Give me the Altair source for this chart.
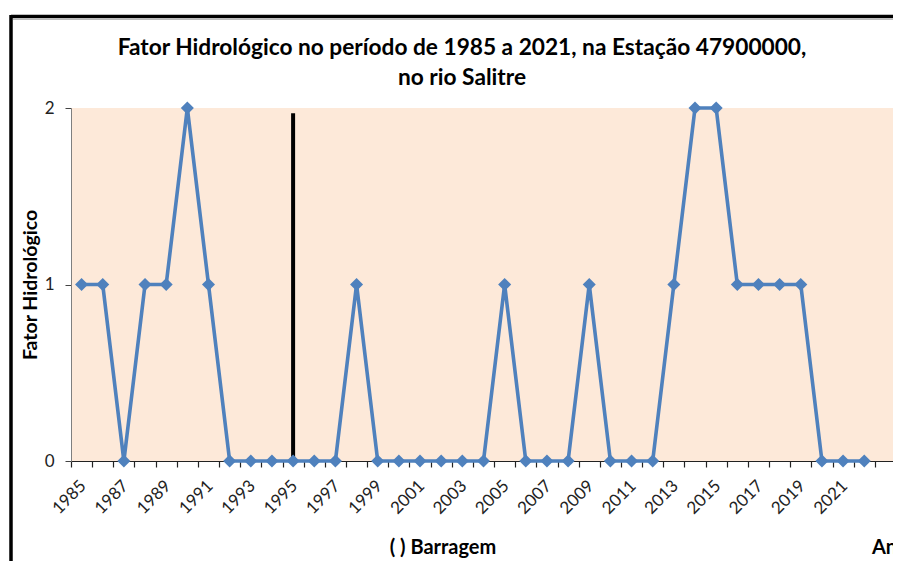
import altair as alt
import pandas as pd

# ---- data ----
years = list(range(1985, 2023))
fator = [1, 1, 0, 1, 1, 2, 1, 0, 0, 0,
         0, 0, 0, 1, 0, 0, 0, 0, 0, 0,
         1, 0, 0, 0, 1, 0, 0, 0, 1, 2,
         2, 1, 1, 1, 1, 0, 0, 0]
dam_year = [1995]
dam_top = [1.97]
category_bounds = [1984.5 + i for i in range(40)]
y_ticks = [0, 1, 2]
title_lines = ["Fator Hidrológico no período de 1985 a 2021, na Estação 47900000,",
               "no rio Salitre"]
y_title = "Fator Hidrológico"
legend_text = ["( ) Barragem"]
x_title = ["Ano"]

df = pd.DataFrame({"Ano": years, "Fator": fator})
dam = pd.DataFrame({"Ano": dam_year, "Fator": [0] * len(dam_year), "Topo": dam_top})

FONT = "Lato"
BLUE = "#4F81BD"
W, H = 822, 353

xscale = alt.Scale(domain=[1984.5, 2023.36], nice=False, zero=False)
yscale = alt.Scale(domain=[0, 2], nice=False, zero=True)

xaxis = alt.Axis(
    values=category_bounds,
    labelExpr="((datum.value + 0.5) % 2 == 1) && (datum.value < 2022) ? format(datum.value + 0.5, 'd') : ''",
    labelAngle=-45, labelAlign="right", labelBaseline="middle",
    labelOffset=12, labelPadding=16, tickSize=6,
    labelOverlap=False, labelFlush=False, labelBound=False,
    labelFont=FONT, labelFontSize=17, labelColor="#222222",
    domainColor="#222222", tickColor="#222222", domainWidth=1.2, tickWidth=1.2,
    grid=False, title=None,
)
yaxis = alt.Axis(
    values=y_ticks, tickCount=3,
    labelExpr="format(datum.value, '.0f')",
    tickSize=6, labelPadding=11,
    labelOverlap=False, labelFlush=False, labelBound=False,
    labelFont=FONT, labelFontSize=17, labelColor="#222222",
    domainColor="#7f7f7f", tickColor="#444444", grid=False,
    title=y_title, titleFont=FONT, titleFontSize=19.5, titleFontWeight="bold",
    titleColor="black", titleX=-41, titleY=H / 2, titleBaseline="middle",
    titleAngle=270,
)

X = alt.X("Ano:Q", scale=xscale, axis=xaxis)
Y = alt.Y("Fator:Q", scale=yscale, axis=yaxis)

dam_rule = alt.Chart(dam).mark_rule(color="black", strokeWidth=4).encode(
    x=X, y=Y, y2="Topo:Q")
line = alt.Chart(df).mark_line(color=BLUE, strokeWidth=3.6).encode(x=X, y=Y)
points = alt.Chart(df).mark_point(shape="diamond", filled=True, size=170,
                                  color=BLUE, opacity=1).encode(x=X, y=Y)

one = pd.DataFrame({"a": [0]})
frame_top = alt.Chart(one).mark_rule(color="black", strokeWidth=3.5).encode(
    x=alt.value(-60), x2=alt.value(830), y=alt.value(-91.5))
frame_top2 = alt.Chart(one).mark_rule(color="#bbbbbb", strokeWidth=1).encode(
    x=alt.value(-58), x2=alt.value(830), y=alt.value(-88.5))
frame_left = alt.Chart(one).mark_rule(color="black", strokeWidth=3.5).encode(
    x=alt.value(-60), y=alt.value(-93), y2=alt.value(460))


def text_layer(txt, x, y, size, align="center"):
    return alt.Chart(pd.DataFrame({"t": [txt]})).mark_text(
        font=FONT, fontSize=size, fontWeight="bold", align=align,
        baseline="alphabetic", color="black").encode(
        x=alt.value(x), y=alt.value(y), text="t:N")


title1 = text_layer(title_lines[0], 391, -53, 22.7)
title2 = text_layer(title_lines[1], 391, -23, 22.7)
legend = text_layer(legend_text[0], 372, 446, 20)
xtitle = text_layer(x_title[0], 801, 446, 20, align="left")

chart = alt.layer(
    dam_rule, line, points, frame_top, frame_top2, frame_left,
    title1, title2, legend, xtitle
).properties(
    width=W, height=H,
    autosize=alt.AutoSizeParams(type="none"),
    padding={"left": 63, "top": 100, "right": 0, "bottom": 100},
    background="white",
).configure_view(fill="#FDE9D9", strokeWidth=0)

chart.save("out.html", embed_options={"renderer": "svg", "actions": False})
